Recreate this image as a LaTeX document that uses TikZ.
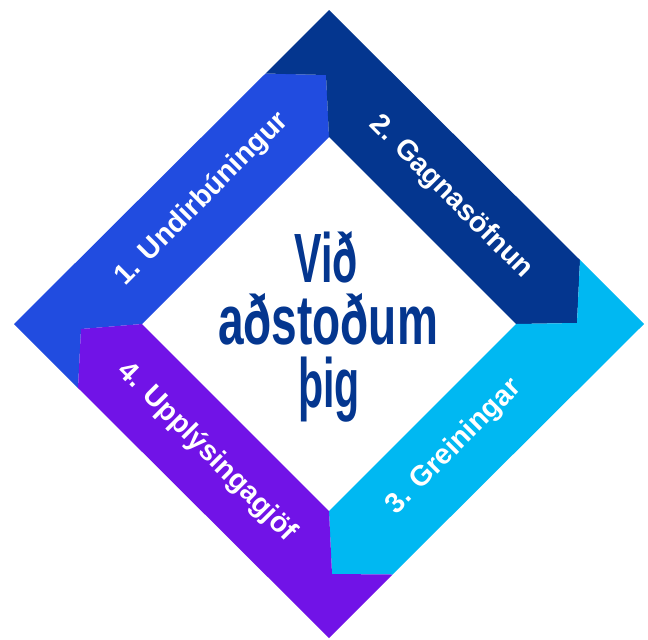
\documentclass[tikz,border=0pt]{standalone}
\usepackage{fontspec}
\setmainfont{Liberation Sans}

\definecolor{stepblue}{HTML}{214CE0}
\definecolor{stepnavy}{HTML}{04368F}
\definecolor{stepcyan}{HTML}{00B8F2}
\definecolor{steppurple}{HTML}{7113E7}

\begin{document}
\begin{tikzpicture}[
        x=0.02cm, y=-0.02cm,
        band/.style={draw=none},
        steptext/.style={text=white, font=\bfseries\fontsize{16.2}{19}\selectfont, anchor=center},
        headline/.style={text=stepnavy, font=\bfseries\fontsize{39.7}{40}\selectfont, anchor=base}
    ]
        \useasboundingbox (0,0) rectangle (648,639);

        % Outer and inner corners
        \coordinate (oT) at (329,10);
        \coordinate (oR) at (644,324);
        \coordinate (oB) at (329,638);
        \coordinate (oL) at (14,324);
        \coordinate (iT) at (329,137);
        \coordinate (iR) at (516,324);
        \coordinate (iB) at (329,511);
        \coordinate (iL) at (142,324);

        % Corner squares and arrow tips
        \coordinate (tL) at (265.5,73.5);
        \coordinate (tC) at (326,75);
        \coordinate (rT) at (580,260);
        \coordinate (rC) at (577,323);
        \coordinate (bR) at (392.5,574.5);
        \coordinate (bC) at (332,574);
        \coordinate (lB) at (78,388);
        \coordinate (lC) at (81,329);

        % Bands
        \fill[band, stepblue] (oL) -- (tL) -- (tC) -- (iT) -- (iL) -- (lC) -- (lB) -- cycle;
        \fill[band, stepnavy] (oT) -- (rT) -- (rC) -- (iR) -- (iT) -- (tC) -- (tL) -- cycle;
        \fill[band, stepcyan] (oR) -- (bR) -- (bC) -- (iB) -- (iR) -- (rC) -- (rT) -- cycle;
        \fill[band, steppurple] (oB) -- (lB) -- (lC) -- (iL) -- (iB) -- (bC) -- (bR) -- cycle;

        % Step labels
        \node[steptext, rotate=45] (prep) at (202,199) {1. Undirbúningur};
        \node[steptext, rotate=-45] (collect) at (451,197) {2. Gagnasöfnun};
        \node[steptext, rotate=45] (analyse) at (454,447) {3. Greiningar};
        \node[steptext, rotate=-45] (report) at (207,452) {4. Upplýsingagjöf};

        % Centre text
        \node[headline] (vid) at (326,282) {\scalebox{0.59}[1]{Við}};
        \node[headline] (adstodum) at (328,344) {\scalebox{0.66}[1]{aðstoðum}};
        \node[headline] (thig) at (329,407) {\scalebox{0.59}[1]{þig}};
    \end{tikzpicture}
\end{document}
